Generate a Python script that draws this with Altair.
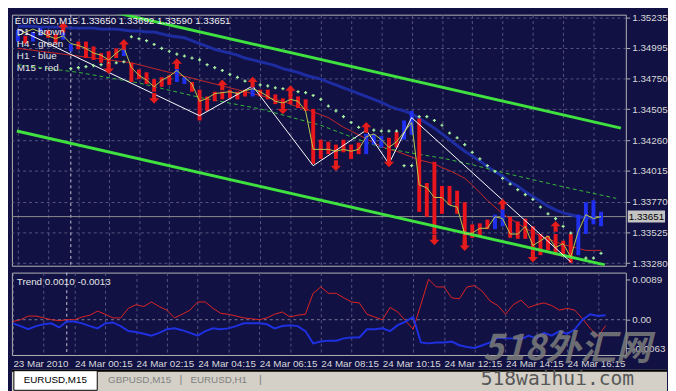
import json
import pandas as pd
import altair as alt

# ---------------- data ----------------
bar_open = [1.35044, 1.35090, 1.35044, 1.35090, 1.35136, 1.35105, 1.35059, 1.34967, 1.35044, 1.35044,
            1.35005, 1.34952, 1.34967, 1.34990, 1.34929, 1.34875, 1.34822, 1.34799, 1.34745, 1.34760,
            1.34776, 1.34722, 1.34707, 1.34722, 1.34661, 1.34607, 1.34645, 1.34645, 1.34661, 1.34645,
            1.34661, 1.34607, 1.34661, 1.34661, 1.34623, 1.34592, 1.34623, 1.34607, 1.34584, 1.34508,
            1.34263, 1.34247, 1.34224, 1.34263, 1.34224, 1.34240, 1.34148, 1.34224, 1.34201, 1.34278,
            1.34324, 1.34263, 1.34301, 1.34431, 1.33918, 1.34087, 1.33895, 1.33895, 1.33857, 1.33765,
            1.33589, 1.33597, 1.33627, 1.33551, 1.33574, 1.33650, 1.33612, 1.33635, 1.33574, 1.33512,
            1.33497, 1.33512, 1.33459, 1.33512, 1.33344, 1.33512, 1.33589, 1.33574]
bar_close = [1.35136, 1.35028, 1.35120, 1.35151, 1.35074, 1.35028, 1.35120, 1.35028, 1.34982, 1.34913,
             1.34898, 1.34875, 1.34852, 1.34913, 1.34990, 1.34722, 1.34745, 1.34707, 1.34645, 1.34684,
             1.34699, 1.34837, 1.34760, 1.34645, 1.34416, 1.34492, 1.34569, 1.34584, 1.34592, 1.34584,
             1.34607, 1.34684, 1.34607, 1.34584, 1.34546, 1.34515, 1.34546, 1.34515, 1.34492, 1.34071,
             1.34110, 1.34148, 1.34110, 1.34163, 1.34110, 1.34148, 1.34309, 1.34309, 1.34293, 1.34110,
             1.34201, 1.34416, 1.34492, 1.33689, 1.33650, 1.33512, 1.33673, 1.33742, 1.33673, 1.33398,
             1.33482, 1.33497, 1.33551, 1.33666, 1.33711, 1.33482, 1.33474, 1.33474, 1.33344, 1.33344,
             1.33382, 1.33344, 1.33329, 1.33283, 1.33666, 1.33765, 1.33780, 1.33689]
close_line = [1.35090, 1.35120, 1.35143, 1.35120, 1.35090, 1.35067, 1.35090, 1.35028, 1.35013, 1.34990,
              1.34952, 1.34936, 1.34898, 1.34952, 1.34998, 1.34837, 1.34776, 1.34737, 1.34684, 1.34737,
              1.34768, 1.34814, 1.34760, 1.34707, 1.34569, 1.34592, 1.34630, 1.34638, 1.34645, 1.34630,
              1.34653, 1.34669, 1.34645, 1.34607, 1.34569, 1.34554, 1.34584, 1.34569, 1.34492, 1.34186,
              1.34186, 1.34186, 1.34171, 1.34186, 1.34171, 1.34186, 1.34286, 1.34309, 1.34263, 1.34201,
              1.34247, 1.34324, 1.34400, 1.33903, 1.33880, 1.33803, 1.33803, 1.33742, 1.33727, 1.33512,
              1.33520, 1.33558, 1.33558, 1.33650, 1.33635, 1.33512, 1.33512, 1.33574, 1.33420, 1.33459,
              1.33497, 1.33405, 1.33436, 1.33329, 1.33535, 1.33666, 1.33635, 1.33651]
ma_blue = [1.35166, 1.35166, 1.35166, 1.35159, 1.35159, 1.35159, 1.35159, 1.35151, 1.35151, 1.35151,
           1.35151, 1.35143, 1.35143, 1.35143, 1.35136, 1.35128, 1.35128, 1.35120, 1.35120, 1.35105,
           1.35090, 1.35082, 1.35074, 1.35051, 1.35028, 1.35005, 1.34982, 1.34967, 1.34952, 1.34936,
           1.34913, 1.34898, 1.34883, 1.34868, 1.34852, 1.34829, 1.34814, 1.34799, 1.34776, 1.34760,
           1.34745, 1.34722, 1.34699, 1.34676, 1.34653, 1.34630, 1.34607, 1.34584, 1.34561, 1.34531,
           1.34508, 1.34492, 1.34469, 1.34431, 1.34393, 1.34355, 1.34309, 1.34263, 1.34217, 1.34171,
           1.34133, 1.34094, 1.34048, 1.34010, 1.33972, 1.33926, 1.33895, 1.33849, 1.33811, 1.33773,
           1.33734, 1.33704, 1.33681, 1.33666, 1.33650, 1.33643, 1.33635]
ma_red = [1.34990, 1.34982, 1.34975, 1.34967, 1.34959, 1.34952, 1.34944, 1.34936, 1.34929, 1.34921,
          1.34913, 1.34906, 1.34898, 1.34890, 1.34883, 1.34875, 1.34860, 1.34845, 1.34829, 1.34814,
          1.34799, 1.34783, 1.34768, 1.34753, 1.34737, 1.34722, 1.34707, 1.34691, 1.34676, 1.34661,
          1.34645, 1.34630, 1.34615, 1.34600, 1.34584, 1.34569, 1.34546, 1.34523, 1.34508, 1.34485,
          1.34462, 1.34439, 1.34400, 1.34362, 1.34332, 1.34301, 1.34270, 1.34240, 1.34209, 1.34186,
          1.34171, 1.34148, 1.34125, 1.34102, 1.34087, 1.34071, 1.34041, 1.34018, 1.33987, 1.33956,
          1.33903, 1.33842, 1.33780, 1.33727, 1.33673, 1.33635, 1.33597, 1.33558, 1.33528, 1.33497,
          1.33474, 1.33451, 1.33428, 1.33413, 1.33398, 1.33382, 1.33382, 1.33382]
ma_green_index = [0, 8, 16, 24, 32, 40, 44, 48, 52, 56, 60, 64, 72, 79]
ma_green = [1.34860, 1.34799, 1.34714, 1.34600, 1.34508, 1.34378, 1.34286, 1.34201, 1.34156,
            1.34117, 1.34064, 1.34002, 1.33888, 1.33796]
sar_index = [7, 8, 9, 10, 11, 12, 13, 14,
             15, 16, 17, 18, 19, 20, 21, 22, 23, 24, 25, 26, 27, 28, 29, 30, 31, 32, 33, 34,
             35, 36, 37, 38, 39, 40, 41, 42, 43, 44, 45, 46, 47, 48, 49, 50,
             51, 52,
             53, 54, 55, 56, 57, 58, 59, 60, 61, 62, 63, 64, 65, 66, 67, 68, 69, 70, 71, 72, 73,
             75, 76, 77]
sar_value = [1.34829, 1.34837, 1.34845, 1.34852, 1.34860, 1.34868, 1.34875, 1.34883,
             1.35082, 1.35067, 1.35051, 1.35021, 1.34990, 1.34967, 1.34944, 1.34929, 1.34913, 1.34898,
             1.34860, 1.34837, 1.34814, 1.34783, 1.34760, 1.34730, 1.34714, 1.34699, 1.34691, 1.34676,
             1.34669, 1.34661, 1.34645, 1.34638, 1.34615, 1.34584, 1.34531, 1.34492, 1.34447, 1.34400,
             1.34362, 1.34339, 1.34339, 1.34332, 1.34332, 1.34332,
             1.34056, 1.34056,
             1.34447, 1.34447, 1.34416, 1.34378, 1.34316, 1.34278, 1.34224, 1.34163, 1.34110, 1.34056,
             1.34010, 1.33956, 1.33910, 1.33865, 1.33826, 1.33788, 1.33727, 1.33673, 1.33635, 1.33574,
             1.33520,
             1.33321, 1.33321, 1.33359]
zigzag_index = [0, 24, 31, 39, 46, 49, 52, 73]
zigzag_value = [1.35143, 1.34454, 1.34691, 1.34056, 1.34339, 1.34071, 1.34439, 1.33290]
channel_upper_index = [-0.125, 79.625]
channel_upper_value = [1.35454, 1.34355]
channel_lower_index = [-0.125, 77.5]
channel_lower_value = [1.34332, 1.33267]
arrow_up_index = [6, 14, 21, 27, 31, 36, 46, 64, 71]
arrow_up_value = [1.35159, 1.35021, 1.34868, 1.34699, 1.34722, 1.34653, 1.34362, 1.33750, 1.33574]
arrow_down_index = [12, 18, 35, 42, 49, 55, 59, 68]
arrow_down_value = [1.34829, 1.34592, 1.34508, 1.34056, 1.34087, 1.33466, 1.33420, 1.33329]
trend_red = [-0.0004, 0.0000, 0.0008, 0.0008, 0.0004, 0.0000, -0.0002, 0.0000, 0.0000, 0.0006,
             0.0010, 0.0019, 0.0012, 0.0004, 0.0004, 0.0025, 0.0033, 0.0029, 0.0039, 0.0029,
             0.0021, 0.0004, 0.0012, 0.0021, 0.0039, 0.0039, 0.0025, 0.0014, 0.0012, 0.0008,
             0.0004, 0.0002, 0.0000, 0.0004, 0.0012, 0.0017, 0.0006, 0.0010, 0.0012, 0.0058,
             0.0072, 0.0058, 0.0058, 0.0048, 0.0039, 0.0037, 0.0012, 0.0006, 0.0000, 0.0027,
             0.0017, -0.0002, -0.0021, 0.0033, 0.0089, 0.0072, 0.0072, 0.0048, 0.0046, 0.0072,
             0.0075, 0.0062, 0.0041, 0.0031, 0.0012, 0.0033, 0.0043, 0.0027, 0.0033, 0.0037,
             0.0031, 0.0021, 0.0025, 0.0021, 0.0002, -0.0019, -0.0037, -0.0013]
trend_blue = [-0.0008, -0.0014, -0.0021, -0.0014, -0.0010, -0.0008, -0.0017, -0.0004, -0.0004, -0.0008,
              -0.0014, -0.0019, -0.0008, -0.0006, -0.0014, -0.0025, -0.0027, -0.0031, -0.0035, -0.0029,
              -0.0021, -0.0019, -0.0023, -0.0029, -0.0035, -0.0025, -0.0019, -0.0021, -0.0019, -0.0014,
              -0.0008, -0.0008, -0.0008, -0.0010, -0.0019, -0.0014, -0.0012, -0.0014, -0.0025, -0.0052,
              -0.0048, -0.0046, -0.0046, -0.0041, -0.0039, -0.0039, -0.0021, -0.0021, -0.0019, -0.0025,
              -0.0012, -0.0004, 0.0006, -0.0050, -0.0052, -0.0050, -0.0050, -0.0048, -0.0056, -0.0060,
              -0.0062, -0.0056, -0.0050, -0.0039, -0.0041, -0.0041, -0.0043, -0.0035, -0.0041, -0.0029,
              -0.0035, -0.0025, -0.0031, -0.0021, 0.0000, 0.0012, 0.0008, 0.0010]
price_ticks = [1.35235, 1.34995, 1.34750, 1.34505, 1.34260, 1.34015, 1.33770, 1.33525, 1.33280]
trend_ticks = [0.0089, 0.0, -0.0063]
trend_tick_labels = ["0.0089", "0.00", "-0.0063"]
time_ticks = [0, 8, 16, 24, 32, 40, 48, 56, 64, 72]
time_labels = ["23 Mar 2010", "24 Mar 00:15", "24 Mar 02:15", "24 Mar 04:15", "24 Mar 06:15",
               "24 Mar 08:15", "24 Mar 10:15", "24 Mar 12:15", "24 Mar 14:15", "24 Mar 16:15"]
day_separator = [7]
last_price = 1.33651
header_text = "EURUSD,M15  1.33650 1.33692 1.33590 1.33651"
legend_lines = ["D1 - brown", "H4 - green", "H1 - blue", "M15 - red"]
trend_title = "Trend 0.0010 -0.0013"
tab_names = ["EURUSD,M15", "GBPUSD,M15", "EURUSD,H1"]
watermark_cn = "518外汇网"
watermark_url = "518waihui.com"

# ---------------- styling ----------------
W, H_MAIN, H_IND = 626, 256, 84
BG = "#111144"
GRID = "#56567e"
AXC = "#b4b4b4"
TXT = "#d8d8d8"
FONT = "Liberation Sans"
RED, BLUE = "#e8161c", "#2030f0"

xs = alt.Scale(domain=[-0.125, 79.625], nice=False, zero=False)
ys = alt.Scale(domain=[1.332597, 1.352580], nice=False, zero=False)
ts = alt.Scale(domain=[-0.00775, 0.01035], nice=False, zero=False)

grid_vals = list(range(0, 80, 4))
x_axis_main = alt.Axis(values=grid_vals, grid=True, gridColor=GRID, gridDash=[3, 3],
                       labels=False, ticks=False, domain=False, title=None)
y_axis_main = alt.Axis(orient="right", values=price_ticks, format=".5f", grid=True,
                       gridColor=GRID, gridDash=[3, 3], tickSize=4, tickColor=AXC,
                       domain=False, labelColor=TXT, labelFont=FONT, labelFontSize=10,
                       labelPadding=2, title=None)


def mx(field="i"):
    return alt.X(f"{field}:Q", scale=xs, axis=x_axis_main)


def my(field):
    return alt.Y(f"{field}:Q", scale=ys, axis=y_axis_main)


bars = pd.DataFrame({"i": list(range(len(bar_open))), "o": bar_open, "c": bar_close})
bars["dir"] = ["up" if c > o else "down" for o, c in zip(bar_open, bar_close)]
idx = list(range(len(close_line)))

layers = []
layers.append(alt.Chart(pd.DataFrame({"i": day_separator})).mark_rule(
    color="#c8c8d8", strokeDash=[3, 3], strokeWidth=1).encode(x=mx()))
layers.append(alt.Chart(pd.DataFrame({"v": [last_price]})).mark_rule(
    color="#8c8c8c", strokeWidth=1).encode(y=my("v")))
layers.append(alt.Chart(pd.DataFrame({"i": list(range(len(ma_blue))), "v": ma_blue})).mark_line(
    color="#1f2fa6", strokeWidth=3, opacity=0.95).encode(x=mx(), y=my("v")))
layers.append(alt.Chart(pd.DataFrame({"i": idx, "v": ma_red})).mark_line(
    color="#c82828", strokeWidth=1).encode(x=mx(), y=my("v")))
layers.append(alt.Chart(pd.DataFrame({"i": ma_green_index, "v": ma_green})).mark_line(
    color="#36b836", strokeWidth=1, strokeDash=[4, 3]).encode(x=mx(), y=my("v")))
layers.append(alt.Chart(bars).mark_bar(size=4, orient="vertical").encode(
    x=mx(), y=my("o"), y2="c:Q",
    color=alt.Color("dir:N", scale=alt.Scale(domain=["up", "down"], range=[BLUE, RED]), legend=None)))
for ci, cv in ((channel_upper_index, channel_upper_value), (channel_lower_index, channel_lower_value)):
    layers.append(alt.Chart(pd.DataFrame({"i": ci, "v": cv})).mark_line(
        color="#3fe23f", strokeWidth=3, clip=True).encode(x=mx(), y=my("v")))
layers.append(alt.Chart(pd.DataFrame({"i": zigzag_index, "v": zigzag_value})).mark_line(
    color="#ffffff", strokeWidth=1).encode(x=mx(), y=my("v")))
layers.append(alt.Chart(pd.DataFrame({"i": idx, "v": close_line})).mark_line(
    color="#bcc94a", strokeWidth=1).encode(x=mx(), y=my("v")))
layers.append(alt.Chart(pd.DataFrame({"i": sar_index, "v": sar_value})).mark_point(
    shape="cross", filled=True, size=10, color="#a6f0a0", opacity=1).encode(x=mx(), y=my("v")))
up_path = "M0,-1L0.95,0L0.38,0L0.38,1L-0.38,1L-0.38,0L-0.95,0Z"
down_path = "M0,1L0.95,0L0.38,0L0.38,-1L-0.38,-1L-0.38,0L-0.95,0Z"
layers.append(alt.Chart(pd.DataFrame({"i": arrow_up_index, "v": arrow_up_value})).mark_point(
    shape=up_path, filled=True, size=120, color="#e41c1c", opacity=1).encode(x=mx(), y=my("v")))
layers.append(alt.Chart(pd.DataFrame({"i": arrow_down_index, "v": arrow_down_value})).mark_point(
    shape=down_path, filled=True, size=120, color="#e41c1c", opacity=1).encode(x=mx(), y=my("v")))
one = pd.DataFrame({"a": [0]})
layers.append(alt.Chart(one).mark_text(align="left", baseline="middle", font=FONT, fontSize=10,
                                       color="#f2f2f2").encode(
    x=alt.value(3), y=alt.value(7), text=alt.value(header_text)))
layers.append(alt.Chart(one).mark_text(align="left", baseline="middle", font=FONT, fontSize=10,
                                       color="#e4e4e4", lineHeight=12.2).encode(
    x=alt.value(5), y=alt.value(17.5), text=alt.value(legend_lines)))
box_path = "M-1,-0.32L1,-0.32L1,0.32L-1,0.32Z"
layers.append(alt.Chart(pd.DataFrame({"v": [last_price]})).mark_point(
    shape=box_path, filled=True, size=1444, color="#c4c4c4", opacity=1).encode(
    x=alt.value(W + 21), y=my("v")))
layers.append(alt.Chart(pd.DataFrame({"v": [last_price], "t": [f"{last_price:.5f}"]})).mark_text(
    align="center", baseline="middle", font=FONT, fontSize=10, color="#000000").encode(
    x=alt.value(W + 21), y=my("v"), text="t:N"))

main = alt.layer(*layers).properties(width=W, height=H_MAIN)

# ---------------- indicator panel ----------------
lab_expr = f"datum.value % 8 == 0 ? {json.dumps(time_labels)}[datum.value / 8] : ''"
x_axis_ind = alt.Axis(values=grid_vals, grid=True, gridColor=GRID, gridDash=[3, 3],
                      labelExpr=lab_expr, ticks=False, domain=False, labelAlign="left",
                      labelColor=TXT, labelFont=FONT, labelFontSize=10, labelPadding=4,
                      labelOverlap=False, labelFlush=False, labelBound=False, title=None)
t_expr = (f"datum.value > 0.001 ? '{trend_tick_labels[0]}' : datum.value < -0.001 ? "
          f"'{trend_tick_labels[2]}' : '{trend_tick_labels[1]}'")
y_axis_ind = alt.Axis(orient="right", values=trend_ticks, labelExpr=t_expr, grid=False,
                      tickSize=4, tickColor=AXC, domain=False, labelColor=TXT, labelFont=FONT,
                      labelFontSize=10, labelPadding=2, title=None)


def ix():
    return alt.X("i:Q", scale=xs, axis=x_axis_ind)


def iy(field):
    return alt.Y(f"{field}:Q", scale=ts, axis=y_axis_ind)


ind_layers = [
    alt.Chart(pd.DataFrame({"i": day_separator})).mark_rule(
        color="#c8c8d8", strokeDash=[3, 3]).encode(x=ix()),
    alt.Chart(pd.DataFrame({"v": [0.0]})).mark_rule(
        color="#7a7a9a", strokeDash=[3, 3]).encode(y=iy("v")),
    alt.Chart(pd.DataFrame({"i": idx, "v": trend_red})).mark_line(
        color="#e02424", strokeWidth=1).encode(x=ix(), y=iy("v")),
    alt.Chart(pd.DataFrame({"i": idx, "v": trend_blue})).mark_line(
        color="#1e30e0", strokeWidth=2).encode(x=ix(), y=iy("v")),
    alt.Chart(one).mark_text(align="left", baseline="middle", font=FONT, fontSize=10,
                             color="#e4e4e4").encode(
        x=alt.value(5), y=alt.value(10), text=alt.value(trend_title)),
    alt.Chart(one).mark_text(align="center", baseline="middle", font="Noto Sans CJK SC",
                             fontSize=36, fontWeight="bold", fontStyle="italic",
                             color="#7c7c7c", opacity=0.85).encode(
        x=alt.value(566), y=alt.value(78), text=alt.value(watermark_cn)),
]
ind = alt.layer(*ind_layers).properties(width=W, height=H_IND)

# ---------------- tab bar ----------------
TW, TH = 668, 23
tab_layers = [
    alt.Chart(one).mark_rect(color="#d4d0c8").encode(
        x=alt.value(0), x2=alt.value(TW), y=alt.value(0), y2=alt.value(TH)),
    alt.Chart(one).mark_rect(color="#000000").encode(
        x=alt.value(0), x2=alt.value(TW), y=alt.value(0), y2=alt.value(2)),
    alt.Chart(one).mark_rect(color="#ffffff", stroke="#000000", strokeWidth=1).encode(
        x=alt.value(2), x2=alt.value(87), y=alt.value(1), y2=alt.value(21)),
    alt.Chart(one).mark_text(align="left", baseline="middle", font=FONT, fontSize=10,
                             color="#000000").encode(
        x=alt.value(12), y=alt.value(11), text=alt.value(tab_names[0])),
    alt.Chart(one).mark_text(align="left", baseline="middle", font=FONT, fontSize=10,
                             color="#808080").encode(
        x=alt.value(98), y=alt.value(11), text=alt.value(tab_names[1])),
    alt.Chart(one).mark_text(align="left", baseline="middle", font=FONT, fontSize=11,
                             color="#808080").encode(
        x=alt.value(171), y=alt.value(11), text=alt.value("|")),
    alt.Chart(one).mark_text(align="left", baseline="middle", font=FONT, fontSize=10,
                             color="#808080").encode(
        x=alt.value(182), y=alt.value(11), text=alt.value(tab_names[2])),
    alt.Chart(one).mark_text(align="left", baseline="middle", font=FONT, fontSize=11,
                             color="#808080").encode(
        x=alt.value(252), y=alt.value(11), text=alt.value("|")),
    alt.Chart(one).mark_text(align="left", baseline="middle", font="DejaVu Sans Mono",
                             fontSize=20, color="#585858").encode(
        x=alt.value(478), y=alt.value(10), text=alt.value(watermark_url)),
]
tabs = alt.layer(*tab_layers).properties(width=TW, height=TH,
                                         view=alt.ViewBackground(strokeWidth=0))

upper = alt.vconcat(main, ind, spacing=3)
chart = alt.vconcat(upper, tabs, spacing=0).properties(
    padding=0, background=BG
).configure_view(stroke=AXC, strokeWidth=1)

chart.save("out.html", embed_options={"renderer": "svg", "actions": False})
